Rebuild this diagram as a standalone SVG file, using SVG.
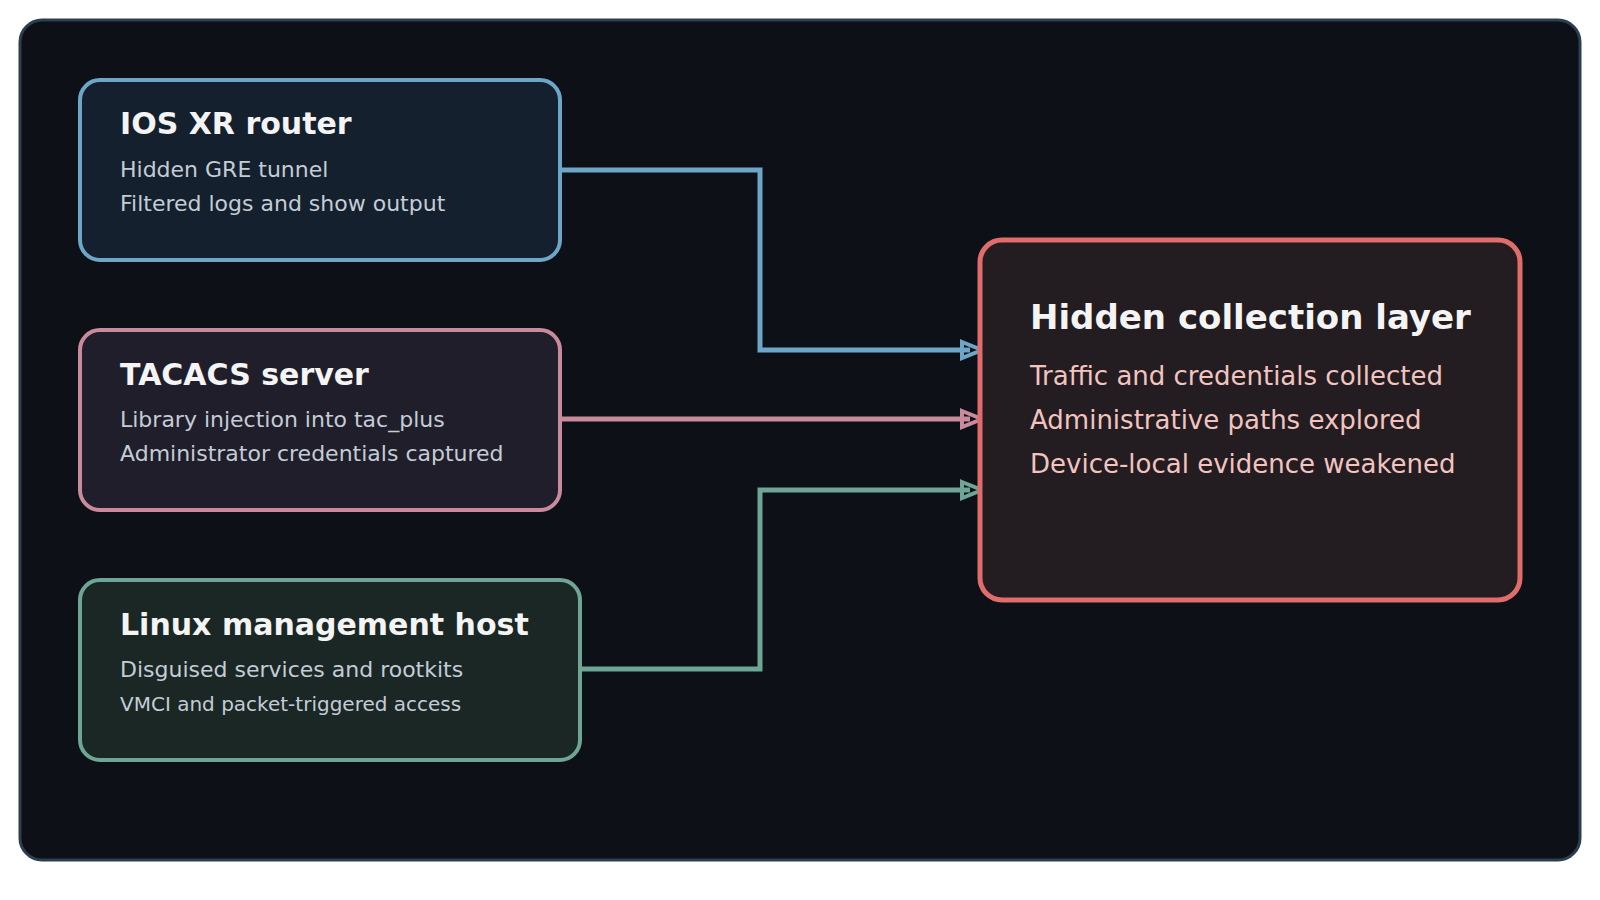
<svg xmlns="http://www.w3.org/2000/svg" width="1600" height="900" viewBox="0 0 1600 900">
<style>
text{font-family:"DejaVu Sans",sans-serif}
.t{font-weight:bold;font-size:30px;fill:#f4f4f4}
.s{font-size:22px;fill:#c4ccd6}
.c{fill:none;stroke-width:5}
</style>
<defs>
<marker id="mb" markerWidth="8" markerHeight="8" refX="6" refY="4" orient="auto" markerUnits="userSpaceOnUse" viewBox="0 0 8 8"><path d="M0,0L8,4L0,8z" fill="#6ea6c8"/></marker>
</defs>
<rect width="1600" height="900" fill="#fff"/>
<rect x="20" y="20" width="1560" height="840" rx="22" fill="#0d1117" stroke="#2d3e50" stroke-width="3"/>
<g id="connectors">
<path class="c" stroke="#6ea6c8" d="M560,170H760V350H970"/>
<path d="M962,342L982,350L962,358z" fill="none" stroke="#6ea6c8" stroke-width="4"/>
<path class="c" stroke="#c98a9c" d="M560,419H970"/>
<path d="M962,411L982,419L962,427z" fill="none" stroke="#c98a9c" stroke-width="4"/>
<path class="c" stroke="#6fa595" d="M580,669H760V490H970"/>
<path d="M962,482L982,490L962,498z" fill="none" stroke="#6fa595" stroke-width="4"/>
</g>
<g id="ios">
<rect x="80" y="80" width="480" height="180" rx="20" fill="#15202e" stroke="#6ea6c8" stroke-width="4"/>
<text class="t" x="120" y="134">IOS XR router</text>
<text class="s" x="120" y="177">Hidden GRE tunnel</text>
<text class="s" x="120" y="211">Filtered logs and show output</text>
</g>
<g id="tacacs">
<rect x="80" y="330" width="480" height="180" rx="20" fill="#201e2b" stroke="#c98a9c" stroke-width="4"/>
<text class="t" x="120" y="385">TACACS server</text>
<text class="s" x="120" y="427">Library injection into tac_plus</text>
<text class="s" x="120" y="461">Administrator credentials captured</text>
</g>
<g id="linux">
<rect x="80" y="580" width="500" height="180" rx="20" fill="#1a2725" stroke="#6fa595" stroke-width="4"/>
<text class="t" x="120" y="635">Linux management host</text>
<text class="s" x="120" y="677">Disguised services and rootkits</text>
<text class="s" x="120" y="711" style="font-size:20px">VMCI and packet-triggered access</text>
</g>
<g id="hidden">
<rect x="980" y="240" width="540" height="360" rx="22" fill="#231c20" stroke="#e06c6c" stroke-width="5"/>
<text class="t" x="1030" y="329" style="font-size:34px">Hidden collection layer</text>
<text class="s" x="1030" y="385" style="font-size:26px;fill:#f2c4c0">Traffic and credentials collected</text>
<text class="s" x="1030" y="429" style="font-size:26px;fill:#f2c4c0">Administrative paths explored</text>
<text class="s" x="1030" y="473" style="font-size:26px;fill:#f2c4c0">Device-local evidence weakened</text>
</g>
</svg>
